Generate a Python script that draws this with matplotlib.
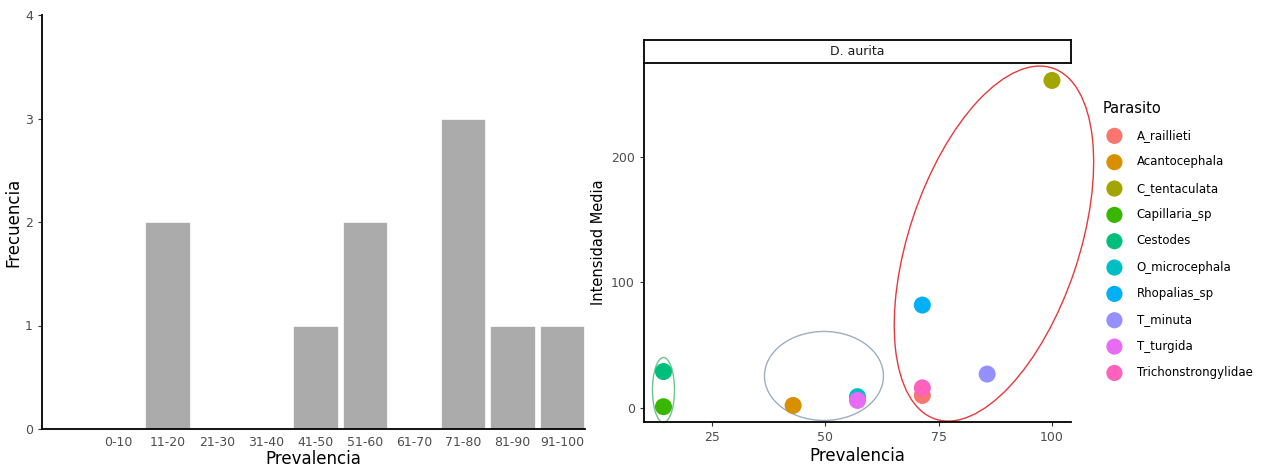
import numpy as np
import matplotlib
matplotlib.use("Agg")
from matplotlib import pyplot as plt
from matplotlib.patches import Ellipse
from matplotlib.transforms import ScaledTranslation

# --------- DATA ---------

# Histogram of prevalence classes
prev_classes = ["0-10", "11-20", "21-30", "31-40", "41-50",
                "51-60", "61-70", "71-80", "81-90", "91-100"]
frecuencia = [0, 2, 0, 0, 1, 2, 0, 3, 1, 1]

# Prevalence vs mean intensity per parasite (D. aurita)
parasitos = ["A_raillieti", "Acantocephala", "C_tentaculata", "Capillaria_sp",
             "Cestodes", "O_microcephala", "Rhopalias_sp", "T_minuta",
             "T_turgida", "Trichonstrongylidae"]
prevalencia = [71.4, 42.9, 100.0, 14.3, 14.3, 57.1, 71.4, 85.7, 57.1, 71.4]
intensidad = [10, 2, 261, 1, 29, 9, 82, 27, 6, 16]
colores = ["#F8766D", "#D89000", "#A3A500", "#39B600", "#00BF7D",
           "#00BFC4", "#00B0F6", "#9590FF", "#E76BF3", "#FF62BC"]

# Hand-drawn group ellipses: center (data), width/height (inches), angle, colour
grupos_centro = [(14.3, 14.3), (49.7, 25.5), (87.2, 131.0)]
grupos_size = [(0.22, 0.65), (1.19, 0.89), (3.70, 1.70)]
grupos_angulo = [0, 0, 71.5]
grupos_color = ["#6CC58A", "#9AAFC4", "#E8383C"]

# ------------------------

W, H = 1272, 470
fig = plt.figure(figsize=(W / 100, H / 100), dpi=100)
tick_col = "#4D4D4D"

def fig_rect(x0, y0, x1, y1):
    # pixel box (top-left origin) -> figure fraction rect
    return [x0 / W, 1 - y1 / H, (x1 - x0) / W, (y1 - y0) / H]

# Left: histogram
ax1 = fig.add_axes(fig_rect(42, 15, 585, 429))
pos = np.arange(len(prev_classes))
ax1.bar(pos, frecuencia, width=0.9, color="#ABABAB", edgecolor="white", linewidth=0.5)
ax1.set_xlim(-1.55, len(prev_classes) - 0.53)
ax1.set_ylim(0, 4)
ax1.set_xticks(pos)
ax1.set_xticklabels(prev_classes)
ax1.set_yticks([0, 1, 2, 3, 4])
ax1.tick_params(axis="x", length=0, pad=5, labelsize=9, labelcolor=tick_col)
ax1.tick_params(axis="y", length=3, width=0.8, color="#333333", labelsize=9, labelcolor=tick_col)
for s in ["top", "right"]:
    ax1.spines[s].set_visible(False)
for s in ["left", "bottom"]:
    ax1.spines[s].set_linewidth(1.3)
ax1.set_xlabel("Prevalencia", fontsize=12, labelpad=1)
ax1.set_ylabel("Frecuencia", fontsize=12, labelpad=2)

# Right: scatter with strip
ax2 = fig.add_axes(fig_rect(644, 63, 1071, 422))
for x, y, c, lab in zip(prevalencia, intensidad, colores, parasitos):
    ax2.scatter(x, y, s=150, color=c, label=lab, edgecolors="none", zorder=3)
ax2.set_xlim(10.0, 104.2)
ax2.set_ylim(-11.2, 274.9)
ax2.set_xticks([25, 50, 75, 100])
ax2.set_yticks([0, 100, 200])
ax2.tick_params(length=3, width=0.8, color="#333333", labelsize=9, labelcolor=tick_col)
for s in ["top", "right"]:
    ax2.spines[s].set_visible(False)
for s in ["left", "bottom"]:
    ax2.spines[s].set_linewidth(1.3)
ax2.set_xlabel("Prevalencia", fontsize=12, labelpad=2)
ax2.set_ylabel("Intensidad Media", fontsize=10.5, labelpad=4)

for (cx, cy), (w, h), ang, col in zip(grupos_centro, grupos_size, grupos_angulo, grupos_color):
    tr = fig.dpi_scale_trans + ScaledTranslation(cx, cy, ax2.transData)
    e = Ellipse((0, 0), w, h, angle=ang, transform=tr, fill=False,
                edgecolor=col, linewidth=1.0, clip_on=False, zorder=2)
    ax2.add_patch(e)

# strip
sax = fig.add_axes(fig_rect(644, 40, 1071, 63))
sax.set_xticks([])
sax.set_yticks([])
for s in sax.spines.values():
    s.set_linewidth(1.3)
sax.text(0.5, 0.5, "D. aurita", ha="center", va="center", fontsize=9, color="#1A1A1A",
         transform=sax.transAxes)

# legend
leg = ax2.legend(title="Parasito", loc="upper left", bbox_to_anchor=(1092 / W, 1 - 90 / H),
                 bbox_transform=fig.transFigure, frameon=False, fontsize=8.5,
                 title_fontsize=10.5, labelspacing=1.13, handletextpad=0.9,
                 markerscale=0.95, alignment="left")

fig.savefig("out.png", dpi=100)
